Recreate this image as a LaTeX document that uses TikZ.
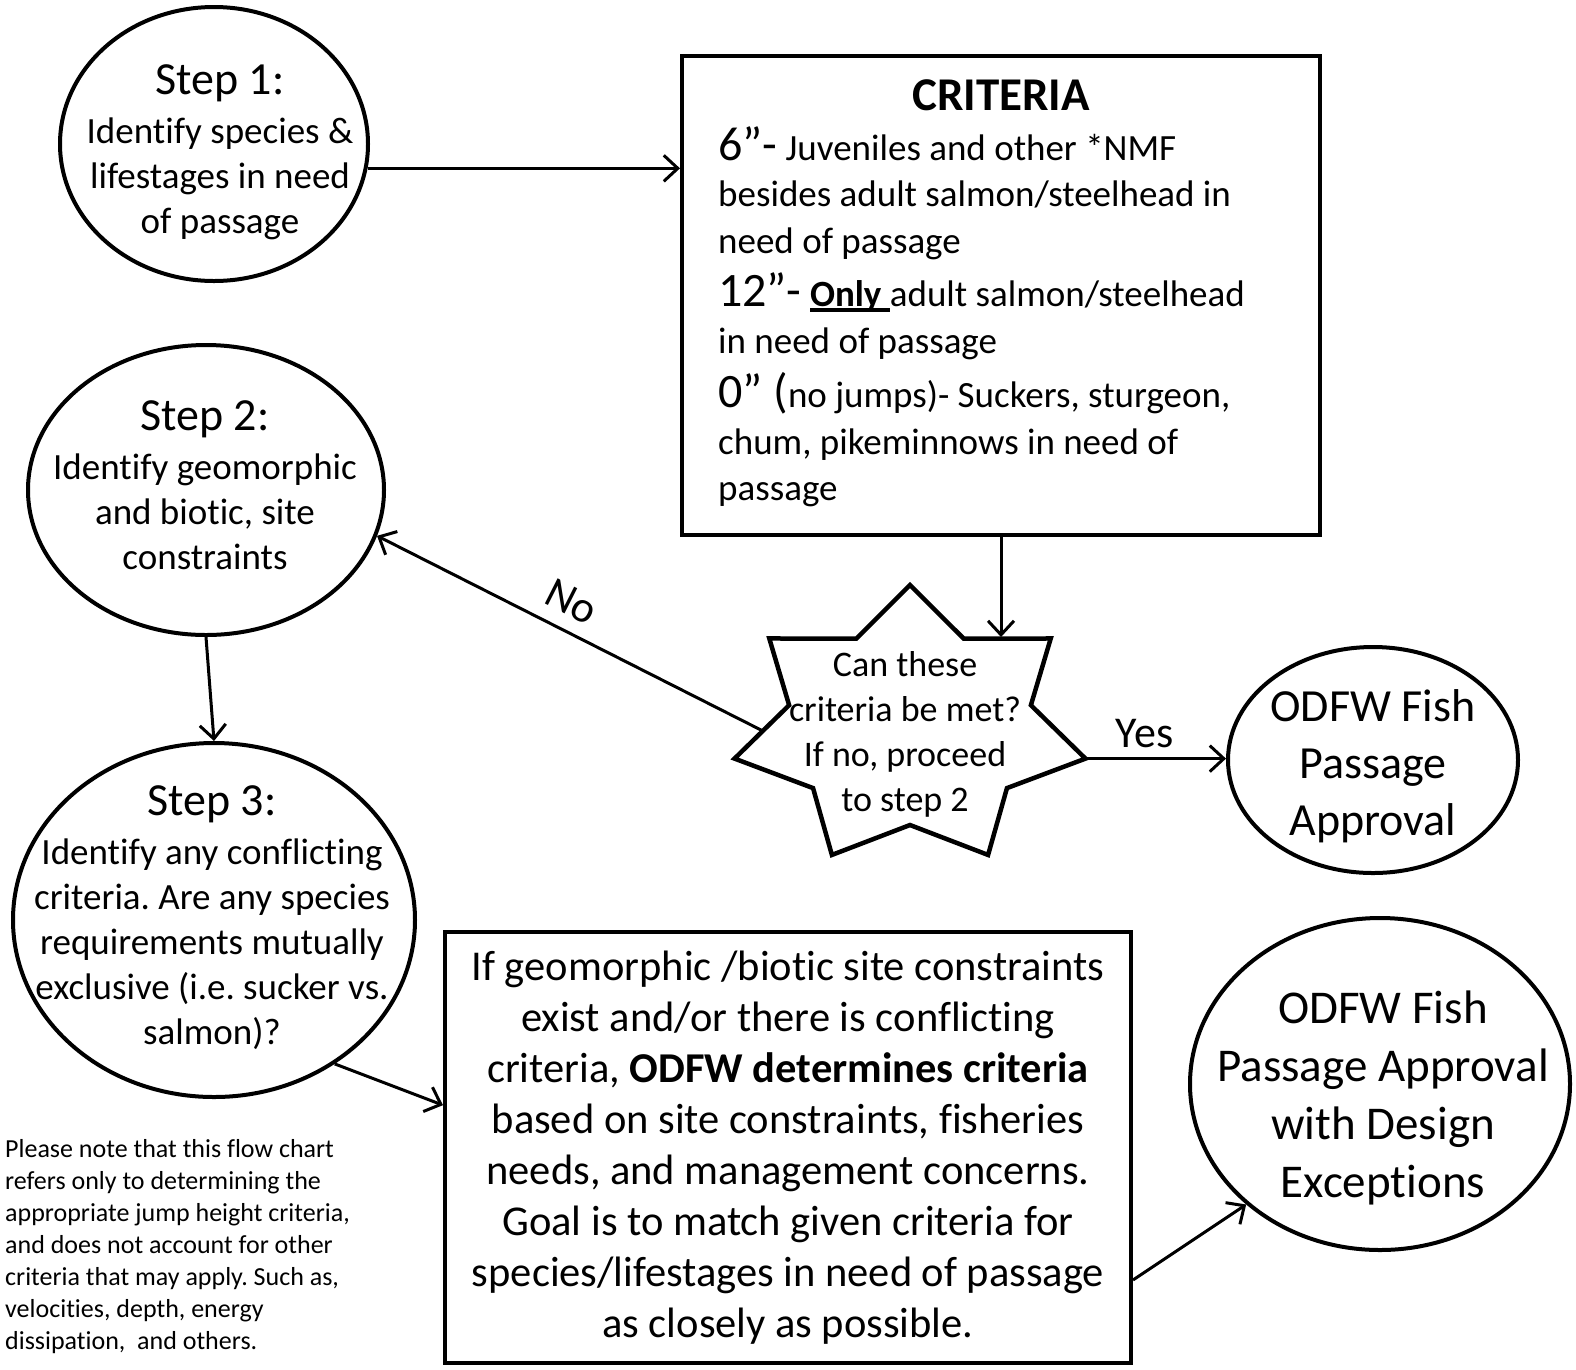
\documentclass[tikz,border=0pt]{standalone}
\usepackage{fontspec}
\setmainfont[Ligatures=NoCommon]{Carlito}
\usepackage{tikz}
\usetikzlibrary{positioning,arrows.meta,shapes.geometric}

\newcommand\stepfont{\fontsize{46}{52}\selectfont}
\newcommand\bigfont{\fontsize{48}{46.5}\selectfont}
\newcommand\undl[1]{\setbox0\hbox{#1}\rlap{\rule[-5pt]{\wd0}{3.5pt}}\box0}
\frenchspacing

\tikzset{
  oval/.style={draw, ellipse, line width=4pt, inner sep=0pt},
  panel/.style={draw, rectangle, line width=4pt, inner sep=0pt},
  words/.style={inner sep=0pt, align=center, font=\fontsize{37}{45}\selectfont},
  lab/.style={inner sep=0pt, font=\fontsize{44}{52}\selectfont},
  arr/.style={line width=3pt, -{Straight Barb[length=14pt,width=26pt]}},
}

\begin{document}
\begin{tikzpicture}[x=1pt,y=-1pt]
  \useasboundingbox (0,0) rectangle (1576,1369);
  % the three steps
  \node[oval, minimum width=308, minimum height=274] (s1) at (214,144) {};
  \node[words] (s1t) at (220,152) {{\stepfont Step 1:}\\[4pt]Identify species \&\\lifestages in need\\of passage};
  \node[oval, minimum width=356, minimum height=290] (s2) at (206,490) {};
  \node[words] (s2t) at (205,485) {{\stepfont Step 2:}\\[4pt]Identify geomorphic\\and biotic, site\\constraints};
  \node[oval, minimum width=402, minimum height=354] (s3) at (214,920) {};
  \node[words] (s3t) at (212,918) {{\stepfont Step 3:}\\[4pt]Identify any conflicting\\criteria. Are any species\\requirements mutually\\exclusive (i.e. sucker vs.\\salmon)?};

  % criteria box
  \node[panel, minimum width=638, minimum height=479] (crit) at (1001,295.5) {};
  \node[inner sep=0pt, font=\bfseries\fontsize{47}{56}\selectfont] (crith) at (1001,95) {CRITERIA};
  \node[inner sep=0pt, align=left, anchor=north west, font=\fontsize{37}{46.5}\selectfont] (critt) at (718,126)
    {{\bigfont 6”-} Juveniles and other *NMF\\besides adult salmon/steelhead in\\need of passage\\[7pt]
     {\bigfont 12”-} \undl{\textbf{Only}\ }adult salmon/steelhead\\in need of passage\\[8pt]
     {\bigfont 0” (}no jumps)- Suckers, sturgeon,\\chum, pikeminnows in need of\\passage};

  % decision star
  \node[inner sep=0pt, align=center, font=\fontsize{36}{45}\selectfont] (q) at (905,734.5) {Can these\\criteria be met?\\If no, proceed\\to step 2};
  \begin{scope}[shift={(910,727)}]
    \draw[line width=4.5pt, line join=miter] (-90:180 and 142)
      \foreach \k in {0,...,5} {-- ({-64.29+51.43*\k}:124 and 98) -- ({-38.57+51.43*\k}:180 and 142)}
      -- (244.29:124 and 98) -- cycle;
    \coordinate (qT) at (91,-90);
    \coordinate (qR) at (12.86:180 and 142);
    \coordinate (qL) at (-147,4);
  \end{scope}

  % outcomes
  \node[oval, minimum width=290, minimum height=226] (ok1) at (1373,760) {};
  \node[inner sep=0pt, align=center, font=\fontsize{46}{57}\selectfont] (ok1t) at (1373,766) {ODFW Fish\\Passage\\Approval};
  \node[oval, minimum width=380, minimum height=332] (ok2) at (1380,1084) {};
  \node[inner sep=0pt, align=center, font=\fontsize{47}{58}\selectfont] (ok2t) at (1383,1098) {ODFW Fish\\Passage Approval\\with Design\\Exceptions};
  \node[panel, minimum width=686, minimum height=431, align=center, font=\fontsize{42.5}{51}\selectfont] (fix) at (788,1147.5)
    {If geomorphic /biotic site constraints\\exist and/or there is conflicting\\criteria, \textbf{ODFW determines criteria}\\based on site constraints, fisheries\\needs, and management concerns.\\Goal is to match given criteria for\\species/lifestages in need of passage\\as closely as possible.};

  % note
  \node[inner sep=0pt, align=left, anchor=north west, font=\fontsize{26}{32}\selectfont] (note) at (5,1139)
    {Please note that this flow chart\\refers only to determining the\\appropriate jump height criteria,\\and does not account for other\\criteria that may apply. Such as,\\velocities, depth, energy\\dissipation,\ \ and others.};

  % connectors
  \draw[arr] (s1.-9) -- (s1.-9 -| crit.west);
  \draw[arr] (crit.south) -- (qT);
  \draw[arr] (qL) -- node[lab, pos=0.53, sloped, above=13pt] (no) {No} (s2.-15);
  \draw[arr] (qR) -- node[lab, pos=0.42, above=9pt] (yes) {Yes} (qR -| ok1.west);
  \draw[arr] (s2.south) -- (s3.north);
  \draw[arr] (s3.-50) -- (fix.173);
  \draw[arr] (fix.-21) -- (ok2.-138);
\end{tikzpicture}
\end{document}
